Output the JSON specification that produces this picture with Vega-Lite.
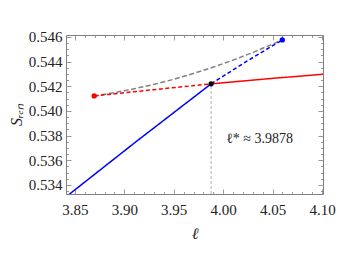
{
  "$schema": "https://vega.github.io/schema/vega-lite/v6.json",
  "width": 257,
  "height": 159,
  "autosize": "none",
  "padding": {"left": 66, "top": 35, "right": 16, "bottom": 77},
  "config": {
    "view": {"stroke": "#808080", "strokeWidth": 1},
    "axis": {
      "domain": false,
      "grid": false,
      "tickColor": "#808080",
      "tickWidth": 0.8,
      "labelFont": "Liberation Serif",
      "labelFontSize": 15,
      "labelColor": "#222222",
      "titleFont": "Liberation Serif",
      "titleFontSize": 16,
      "titleFontWeight": "normal",
      "titleColor": "#222222"
    }
  },
  "datasets": {
    "lines": [
      {"series": "gray", "x": 3.8695, "y": 0.54122},
      {"series": "gray", "x": 3.8898, "y": 0.54148},
      {"series": "gray", "x": 3.9100, "y": 0.54180},
      {"series": "gray", "x": 3.9303, "y": 0.54216},
      {"series": "gray", "x": 3.9505, "y": 0.54258},
      {"series": "gray", "x": 3.9707, "y": 0.54306},
      {"series": "gray", "x": 3.9910, "y": 0.54358},
      {"series": "gray", "x": 4.0112, "y": 0.54416},
      {"series": "gray", "x": 4.0315, "y": 0.54479},
      {"series": "gray", "x": 4.0598, "y": 0.54576},
      {"series": "red_dash", "x": 3.8695, "y": 0.54122},
      {"series": "red_dash", "x": 3.9300, "y": 0.54173},
      {"series": "red_dash", "x": 3.9878, "y": 0.54220},
      {"series": "red_solid", "x": 3.9878, "y": 0.54220},
      {"series": "red_solid", "x": 4.0450, "y": 0.54261},
      {"series": "red_solid", "x": 4.1010, "y": 0.54298},
      {"series": "blue_solid", "x": 3.8350, "y": 0.53266},
      {"series": "blue_solid", "x": 3.9128, "y": 0.53757},
      {"series": "blue_solid", "x": 3.9878, "y": 0.54220},
      {"series": "blue_dash", "x": 3.9878, "y": 0.54220},
      {"series": "blue_dash", "x": 4.0240, "y": 0.54404},
      {"series": "blue_dash", "x": 4.0598, "y": 0.54576}
    ],
    "points": [
      {"series": "red", "x": 3.8695, "y": 0.54122},
      {"series": "blue", "x": 4.0598, "y": 0.54576},
      {"series": "black", "x": 3.9878, "y": 0.54220}
    ],
    "marker": [
      {"x": 3.9878, "y": 0.53327, "y2": 0.54220}
    ],
    "label": [
      {"x": 4.003, "y": 0.5377, "text": "ℓ* ≈ 3.9878"}
    ]
  },
  "layer": [
    {
      "data": {"name": "marker"},
      "mark": {"type": "rule", "color": "#9a9a9a", "strokeWidth": 0.8, "strokeDash": [3, 2]},
      "encoding": {
        "x": {
          "field": "x", "type": "quantitative",
          "scale": {"domain": [3.841, 4.101], "nice": false, "zero": false},
          "axis": {
            "orient": "bottom",
            "values": [3.85, 3.86, 3.87, 3.88, 3.89, 3.90, 3.91, 3.92, 3.93, 3.94, 3.95, 3.96, 3.97, 3.98, 3.99, 4.00, 4.01, 4.02, 4.03, 4.04, 4.05, 4.06, 4.07, 4.08, 4.09, 4.10],
            "labelExpr": "abs(datum.value*20 - round(datum.value*20)) < 0.01 ? format(datum.value, '.2f') : ''",
            "tickSize": {"condition": {"test": "abs(datum.value*20 - round(datum.value*20)) < 0.01", "value": -5}, "value": -2.5},
            "labelPadding": 13,
            "labelFlush": false,
            "labelOverlap": false,
            "title": "ℓ",
            "titleFontStyle": "italic",
            "titlePadding": 6
          }
        },
        "y": {
          "field": "y", "type": "quantitative",
          "scale": {"domain": [0.53327, 0.54616], "nice": false, "zero": false},
          "axis": {
            "orient": "left",
            "values": [0.5335, 0.534, 0.5345, 0.535, 0.5355, 0.536, 0.5365, 0.537, 0.5375, 0.538, 0.5385, 0.539, 0.5395, 0.54, 0.5405, 0.541, 0.5415, 0.542, 0.5425, 0.543, 0.5435, 0.544, 0.5445, 0.545, 0.5455, 0.546],
            "labelExpr": "abs(datum.value*500 - round(datum.value*500)) < 0.01 ? format(datum.value, '.3f') : ''",
            "tickSize": {"condition": {"test": "abs(datum.value*500 - round(datum.value*500)) < 0.01", "value": -5}, "value": -2.5},
            "labelPadding": 9,
            "labelFlush": false,
            "labelOverlap": false,
            "title": "Sᵣₑₙ",
            "titleFontStyle": "italic",
            "titlePadding": 4
          }
        },
        "y2": {"field": "y2"}
      }
    },
    {
      "data": {"name": "lines"},
      "mark": {"type": "line", "clip": true, "strokeWidth": 1.5},
      "encoding": {
        "x": {
          "field": "x", "type": "quantitative",
          "axis": {
            "orient": "top",
            "values": [3.85, 3.86, 3.87, 3.88, 3.89, 3.90, 3.91, 3.92, 3.93, 3.94, 3.95, 3.96, 3.97, 3.98, 3.99, 4.00, 4.01, 4.02, 4.03, 4.04, 4.05, 4.06, 4.07, 4.08, 4.09, 4.10],
            "labels": false,
            "tickSize": {"condition": {"test": "abs(datum.value*20 - round(datum.value*20)) < 0.01", "value": -5}, "value": -2.5},
            "title": null
          }
        },
        "y": {
          "field": "y", "type": "quantitative",
          "axis": {
            "orient": "right",
            "values": [0.5335, 0.534, 0.5345, 0.535, 0.5355, 0.536, 0.5365, 0.537, 0.5375, 0.538, 0.5385, 0.539, 0.5395, 0.54, 0.5405, 0.541, 0.5415, 0.542, 0.5425, 0.543, 0.5435, 0.544, 0.5445, 0.545, 0.5455, 0.546],
            "labels": false,
            "tickSize": {"condition": {"test": "abs(datum.value*500 - round(datum.value*500)) < 0.01", "value": -5}, "value": -2.5},
            "title": null
          }
        },
        "detail": {"field": "series"},
        "color": {
          "field": "series", "type": "nominal",
          "scale": {"domain": ["gray", "red_dash", "red_solid", "blue_solid", "blue_dash"], "range": ["#808080", "#ff0000", "#ff0000", "#0000ff", "#0000ff"]},
          "legend": null
        },
        "strokeDash": {
          "field": "series", "type": "nominal",
          "scale": {"domain": ["gray", "red_dash", "red_solid", "blue_solid", "blue_dash"], "range": [[5, 2.5], [4, 2.5], [1, 0], [1, 0], [4, 2.5]]},
          "legend": null
        }
      }
    },
    {
      "data": {"name": "points"},
      "mark": {"type": "point", "filled": true, "opacity": 1, "size": 28},
      "encoding": {
        "x": {"field": "x", "type": "quantitative", "axis": null},
        "y": {"field": "y", "type": "quantitative", "axis": null},
        "color": {
          "field": "series", "type": "nominal",
          "scale": {"domain": ["red", "blue", "black"], "range": ["#ff0000", "#0000ff", "#000000"]},
          "legend": null
        }
      }
    },
    {
      "data": {"name": "label"},
      "mark": {"type": "text", "align": "left", "baseline": "middle", "font": "Liberation Serif", "fontSize": 14, "color": "#222222"},
      "encoding": {
        "x": {"field": "x", "type": "quantitative", "axis": null},
        "y": {"field": "y", "type": "quantitative", "axis": null},
        "text": {"field": "text"}
      }
    }
  ],
  "resolve": {"axis": {"x": "independent", "y": "independent"}, "scale": {"color": "independent", "strokeDash": "independent"}}
}
